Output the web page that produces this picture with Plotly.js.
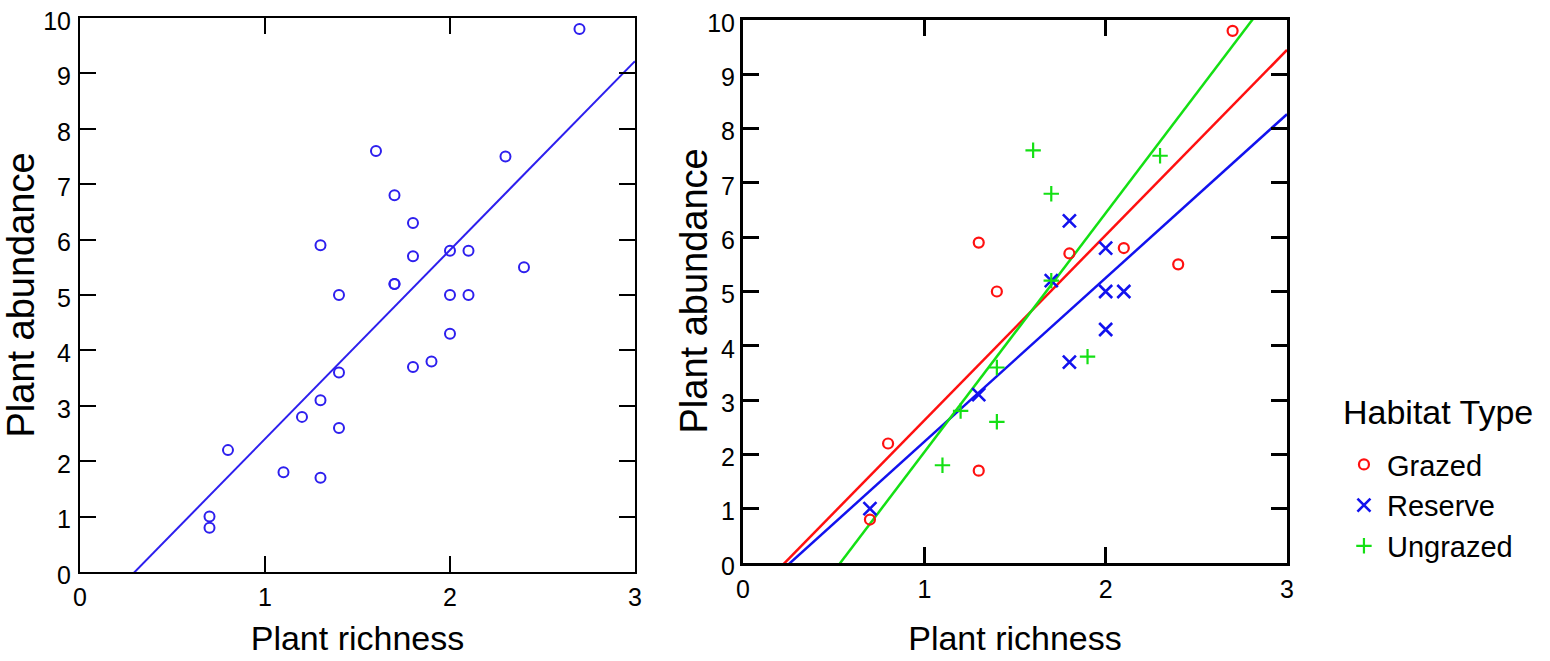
<!DOCTYPE html>
<html>
<head>
<meta charset="utf-8">
<script src="https://cdn.plot.ly/plotly-3.0.1.min.js"></script>
<style>
  html, body { margin: 0; padding: 0; background: #ffffff; }
  #chart { width: 1550px; height: 661px; }
</style>
</head>
<body>
<div id="chart"></div>
<script>
// Plant survey: richness vs abundance for each plot, with habitat type
const richness  = [2.7, 1.6, 2.3, 1.7, 1.8, 1.3, 1.8, 2.0, 2.1, 2.4, 1.7, 1.7, 1.4, 2.0,
                   2.1, 2.0, 1.9, 1.8, 1.4, 1.3, 1.2, 1.4, 0.8, 1.1, 1.3, 0.7, 0.7];
const abundance = [9.8, 7.6, 7.5, 6.8, 6.3, 5.9, 5.7, 5.8, 5.8, 5.5, 5.2, 5.2, 5.0, 5.0,
                   5.0, 4.3, 3.8, 3.7, 3.6, 3.1, 2.8, 2.6, 2.2, 1.8, 1.7, 1.0, 0.8];
const habitat   = ['Grazed', 'Ungrazed', 'Ungrazed', 'Ungrazed', 'Reserve', 'Grazed', 'Grazed',
                   'Reserve', 'Grazed', 'Grazed', 'Reserve', 'Ungrazed', 'Grazed', 'Reserve',
                   'Reserve', 'Reserve', 'Ungrazed', 'Reserve', 'Ungrazed', 'Reserve', 'Ungrazed',
                   'Ungrazed', 'Grazed', 'Ungrazed', 'Grazed', 'Reserve', 'Grazed'];

const habitatTypes = ['Grazed', 'Reserve', 'Ungrazed'];
const habitatColors = { Grazed: '#ff1010', Reserve: '#1212ee', Ungrazed: '#14e014' };
const habitatSymbols = { Grazed: 'circle-open', Reserve: 'x-thin-open', Ungrazed: 'cross-thin-open' };
const habitatSizes = { Grazed: 10, Reserve: 13, Ungrazed: 11 };
const habitatWidths = { Grazed: 2.2, Reserve: 2.6, Ungrazed: 2.2 };
const allColor = '#2d1fee';

const xRange = [0, 3];
const yRange = [0, 10];

// ordinary least squares fit
function fit(xs, ys) {
  const n = xs.length;
  const mx = xs.reduce((a, b) => a + b, 0) / n;
  const my = ys.reduce((a, b) => a + b, 0) / n;
  let sxy = 0, sxx = 0;
  for (let i = 0; i < n; i++) {
    sxy += (xs[i] - mx) * (ys[i] - my);
    sxx += (xs[i] - mx) * (xs[i] - mx);
  }
  const slope = sxy / sxx;
  return { slope: slope, intercept: my - slope * mx };
}

function fitLine(xs, ys, color, width, xa, ya) {
  const f = fit(xs, ys);
  return {
    x: xRange.slice(),
    y: xRange.map(v => f.intercept + f.slope * v),
    type: 'scatter', mode: 'lines',
    line: { color: color, width: width },
    xaxis: xa, yaxis: ya, showlegend: false, hoverinfo: 'skip'
  };
}

const traces = [];

// left panel: all plots pooled
traces.push(fitLine(richness, abundance, allColor, 2, 'x', 'y'));
traces.push({
  x: richness, y: abundance, type: 'scatter', mode: 'markers',
  marker: { symbol: 'circle-open', size: 10, color: allColor, line: { width: 2, color: allColor } },
  xaxis: 'x', yaxis: 'y', showlegend: false
});

// right panel: separate fits by habitat
const groups = {};
habitatTypes.forEach(h => {
  groups[h] = { x: [], y: [] };
});
habitat.forEach((h, i) => {
  groups[h].x.push(richness[i]);
  groups[h].y.push(abundance[i]);
});

habitatTypes.forEach(h => {
  traces.push(fitLine(groups[h].x, groups[h].y, habitatColors[h], 2.5, 'x2', 'y2'));
});
habitatTypes.forEach(h => {
  traces.push({
    x: groups[h].x, y: groups[h].y, type: 'scatter', mode: 'markers', name: h,
    marker: {
      symbol: habitatSymbols[h], size: habitatSizes[h], color: habitatColors[h],
      line: { width: habitatWidths[h], color: habitatColors[h] }
    },
    xaxis: 'x2', yaxis: 'y2', showlegend: true
  });
});

const fontFamily = 'Liberation Sans, Arial, sans-serif';

function axis(extra) {
  return Object.assign({
    ticks: 'inside', ticklen: 16, tickwidth: 2, tickcolor: '#000000',
    showline: true, linewidth: 2, linecolor: '#000000', mirror: 'ticks',
    showgrid: false, zeroline: false, automargin: false,
    dtick: 1, tick0: 0, fixedrange: true,
    tickfont: { family: fontFamily, size: 25, color: '#000000' }
  }, extra);
}

const layout = {
  width: 1550, height: 661,
  margin: { l: 80, r: 263, t: 18, b: 89 },
  paper_bgcolor: '#ffffff', plot_bgcolor: '#ffffff',
  font: { family: fontFamily, color: '#000000' },
  showlegend: true,
  xaxis: axis({
    domain: [0, 0.4598], range: xRange, anchor: 'y', ticklabelstandoff: 2,
    title: { text: 'Plant richness', font: { family: fontFamily, size: 34 }, standoff: 16 }
  }),
  yaxis: axis({
    domain: [0, 1], range: yRange, anchor: 'x', ticklabelstandoff: 2, ticklabelshift: 3,
    title: { text: 'Plant abundance', font: { family: fontFamily, size: 38 }, standoff: 6 }
  }),
  xaxis2: axis({
    domain: [0.5493, 1], range: xRange, anchor: 'y2', ticklabelstandoff: 2,
    linewidth: 3, tickwidth: 3,
    title: { text: 'Plant richness', font: { family: fontFamily, size: 34 }, standoff: 25 }
  }),
  yaxis2: axis({
    domain: [0.0163, 0.9964], range: yRange, anchor: 'x2', ticklabelstandoff: 0, ticklabelshift: 3,
    linewidth: 3, tickwidth: 3
  }),
  annotations: [
    {
      // y-axis title of the habitat panel
      text: 'Plant abundance', textangle: -90, showarrow: false,
      xref: 'paper', yref: 'paper', x: 0.5079, y: 0.5063,
      xanchor: 'center', yanchor: 'middle',
      font: { family: fontFamily, size: 38, color: '#000000' }
    },
    {
      // legend heading
      text: 'Habitat Type', showarrow: false,
      xref: 'paper', yref: 'paper', x: 1.0447, y: 0.289,
      xanchor: 'left', yanchor: 'middle',
      font: { family: fontFamily, size: 34, color: '#000000' }
    }
  ],
  legend: {
    x: 1.0447, xanchor: 'left', y: 0.240, yanchor: 'top',
    bgcolor: 'rgba(0,0,0,0)', borderwidth: 0, itemwidth: 36,
    font: { family: fontFamily, size: 29, color: '#000000' }
  }
};

Plotly.newPlot('chart', traces, layout, { displayModeBar: false, staticPlot: true });
</script>
</body>
</html>
